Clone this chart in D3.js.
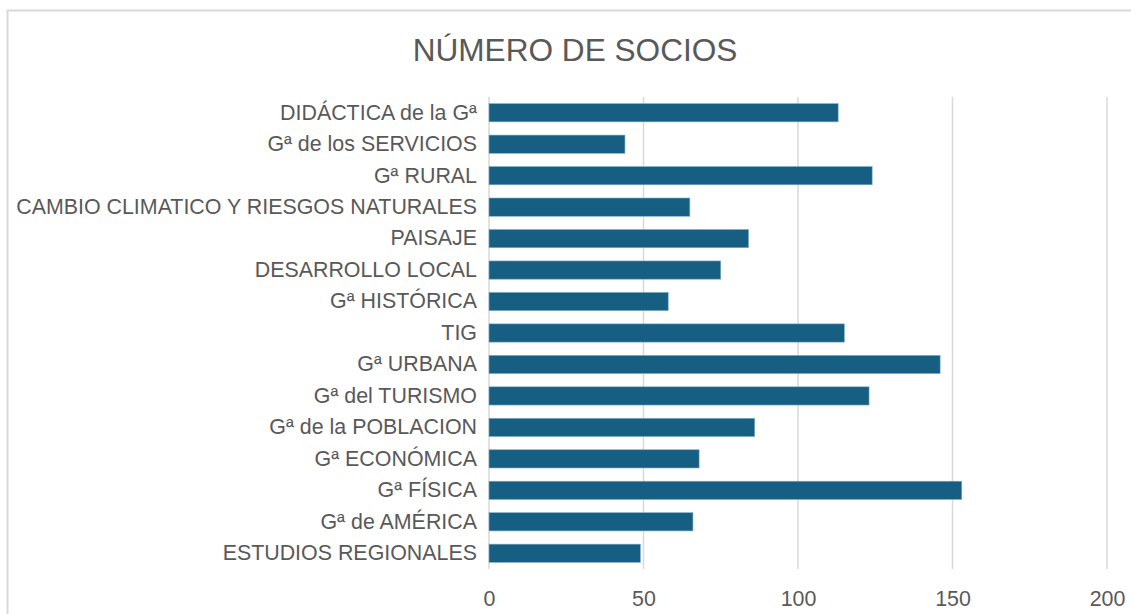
<!DOCTYPE html>
<html>
<head>
<meta charset="utf-8">
<script src="https://cdn.jsdelivr.net/npm/d3@7"></script>
<style>
html,body{margin:0;padding:0;background:#fff;}
svg{display:block;font-family:"Liberation Sans",Arial,sans-serif;}
</style>
</head>
<body>
<svg id="chart" width="1131" height="614"></svg>
<script>
const title = "NÚMERO DE SOCIOS";
const categories = [
  "DIDÁCTICA de la Gª",
  "Gª de los SERVICIOS",
  "Gª RURAL",
  "CAMBIO CLIMATICO Y RIESGOS NATURALES",
  "PAISAJE",
  "DESARROLLO LOCAL",
  "Gª HISTÓRICA",
  "TIG",
  "Gª URBANA",
  "Gª del TURISMO",
  "Gª de la POBLACION",
  "Gª ECONÓMICA",
  "Gª FÍSICA",
  "Gª de AMÉRICA",
  "ESTUDIOS REGIONALES"
];
const values = [113, 44, 124, 65, 84, 75, 58, 115, 146, 123, 86, 68, 153, 66, 49];
const xTicks = [0, 50, 100, 150, 200];

const svg = d3.select("#chart");
const W = 1131, H = 614;
const plot = {left: 489, right: 1107, top: 97, bottom: 569};

// chart border
svg.append("rect")
  .attr("x", 7.5).attr("y", 10.5)
  .attr("width", W + 20).attr("height", H + 20)
  .attr("fill", "none").attr("stroke", "#d9d9d9").attr("stroke-width", 2);

const x = d3.scaleLinear().domain([0, 200]).range([plot.left, plot.right]);
const y = d3.scaleBand().domain(categories).range([plot.top, plot.bottom]).paddingInner(0.42).paddingOuter(0.21);

// gridlines
svg.append("g").selectAll("line").data(xTicks).join("line")
  .attr("x1", d => x(d)).attr("x2", d => x(d))
  .attr("y1", plot.top).attr("y2", plot.bottom)
  .attr("stroke", "#d9d9d9").attr("stroke-width", 1.5);

// bars
svg.append("g").selectAll("rect").data(values).join("rect")
  .attr("x", x(0))
  .attr("y", (d, i) => y(categories[i]))
  .attr("width", d => x(d) - x(0))
  .attr("height", y.bandwidth())
  .attr("fill", "#175f82")
  .attr("stroke", "#7fb0c8").attr("stroke-width", 0.6);

// x axis labels
const xAxis = d3.axisBottom(x).tickValues(xTicks).tickSize(0).tickPadding(0).tickFormat(d3.format("d"));
const gx = svg.append("g").attr("transform", `translate(0,${plot.bottom + 22})`).call(xAxis);
gx.select(".domain").remove();
gx.selectAll("text").attr("fill", "#595959").attr("font-size", 21.4)
  .attr("font-family", "'Liberation Sans', Arial, sans-serif");

// y axis labels
const yAxis = d3.axisLeft(y).tickSize(0).tickPadding(12);
const gy = svg.append("g").attr("transform", `translate(${plot.left},0)`).call(yAxis);
gy.select(".domain").remove();
gy.selectAll("text").attr("fill", "#595959").attr("font-size", 21.4)
  .attr("font-family", "'Liberation Sans', Arial, sans-serif");

// title
svg.append("text")
  .attr("x", 575).attr("y", 61)
  .attr("text-anchor", "middle")
  .attr("fill", "#595959").attr("font-size", 31.6)
  .text(title);
</script>
</body>
</html>
